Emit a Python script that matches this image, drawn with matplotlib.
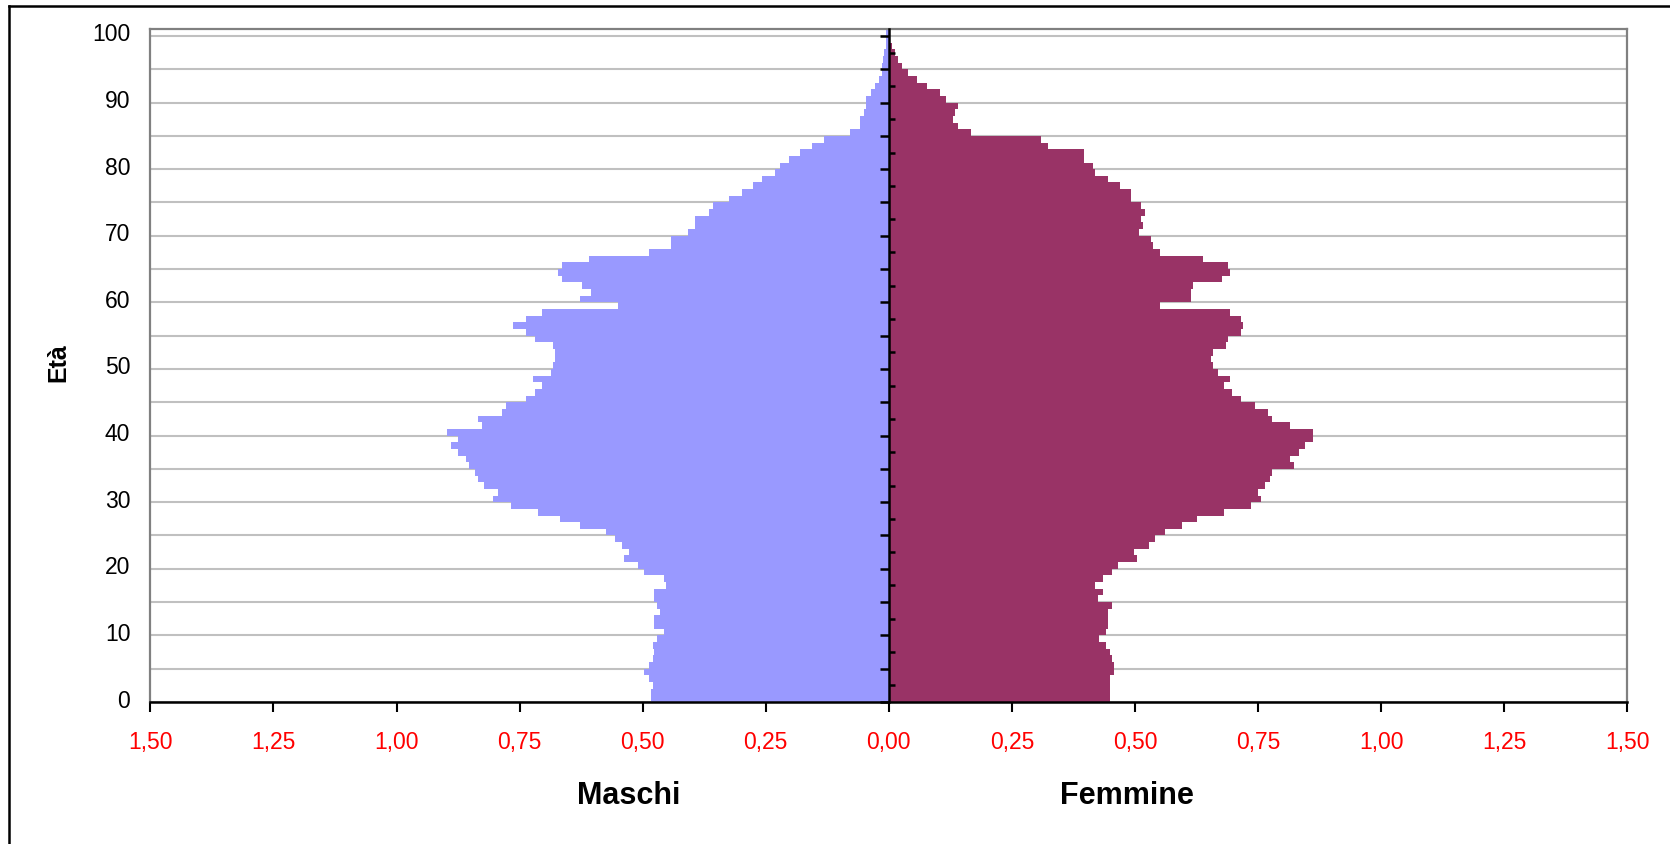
import matplotlib
matplotlib.use("Agg")
import matplotlib.pyplot as plt
from matplotlib.lines import Line2D
from matplotlib.transforms import ScaledTranslation
import numpy as np

# ---------------- data ----------------
ages = list(range(0, 101))

maschi = [0.484, 0.484, 0.480, 0.488, 0.498, 0.488, 0.480, 0.476, 0.480, 0.471,
          0.457, 0.476, 0.476, 0.465, 0.471, 0.476, 0.476, 0.453, 0.457, 0.498,
          0.510, 0.538, 0.528, 0.542, 0.557, 0.575, 0.628, 0.668, 0.713, 0.768,
          0.804, 0.794, 0.823, 0.835, 0.841, 0.853, 0.859, 0.875, 0.890, 0.875,
          0.898, 0.827, 0.835, 0.786, 0.778, 0.737, 0.719, 0.705, 0.723, 0.687,
          0.683, 0.679, 0.679, 0.683, 0.719, 0.737, 0.764, 0.737, 0.705, 0.551,
          0.628, 0.605, 0.624, 0.664, 0.672, 0.664, 0.609, 0.488, 0.443, 0.443,
          0.407, 0.394, 0.394, 0.366, 0.358, 0.325, 0.299, 0.276, 0.258, 0.232,
          0.222, 0.203, 0.181, 0.155, 0.132, 0.078, 0.059, 0.059, 0.051, 0.047,
          0.047, 0.037, 0.029, 0.019, 0.014, 0.014, 0.011, 0.009, 0.006, 0.006,
          0.005]

femmine = [0.450, 0.450, 0.450, 0.450, 0.458, 0.458, 0.454, 0.450, 0.442, 0.428,
           0.442, 0.446, 0.446, 0.446, 0.454, 0.424, 0.436, 0.418, 0.436, 0.454,
           0.465, 0.505, 0.499, 0.528, 0.540, 0.562, 0.595, 0.627, 0.680, 0.735,
           0.757, 0.749, 0.765, 0.775, 0.779, 0.824, 0.816, 0.834, 0.846, 0.861,
           0.861, 0.816, 0.779, 0.771, 0.743, 0.716, 0.698, 0.680, 0.694, 0.668,
           0.658, 0.654, 0.658, 0.684, 0.690, 0.716, 0.720, 0.716, 0.694, 0.550,
           0.613, 0.613, 0.617, 0.676, 0.694, 0.690, 0.639, 0.550, 0.536, 0.532,
           0.509, 0.517, 0.513, 0.521, 0.513, 0.491, 0.491, 0.469, 0.446, 0.418,
           0.414, 0.396, 0.396, 0.324, 0.310, 0.166, 0.140, 0.130, 0.134, 0.140,
           0.117, 0.103, 0.077, 0.058, 0.040, 0.026, 0.018, 0.012, 0.007, 0.003,
           0.001]

x_ticks = [-1.5, -1.25, -1.0, -0.75, -0.5, -0.25, 0.0, 0.25, 0.5, 0.75, 1.0, 1.25, 1.5]
x_ticklabels = ["1,50", "1,25", "1,00", "0,75", "0,50", "0,25", "0,00",
                "0,25", "0,50", "0,75", "1,00", "1,25", "1,50"]
y_grid = list(range(0, 101, 5))
y_labels = [str(v) if v % 10 == 0 else "" for v in y_grid]

label_m = "Maschi"
label_f = "Femmine"
label_y = "Età"

color_m = "#9999FF"
color_f = "#993366"

# ---------------- figure ----------------
plt.rcParams['font.family'] = ['Liberation Sans', 'DejaVu Sans']

W, H = 1670, 844
fig = plt.figure(figsize=(W / 100, H / 100), dpi=100)
fig.patch.set_facecolor("white")

ax_l, ax_r, ax_t, ax_b = 150.4, 1627.2, 29.3, 702.0
ax = fig.add_axes([ax_l / W, 1 - ax_b / H, (ax_r - ax_l) / W, (ax_b - ax_t) / H])

ax.barh(ages, [-v for v in maschi], height=1.0, align='edge', color=color_m,
        linewidth=0, zorder=2)
ax.barh(ages, femmine, height=1.0, align='edge', color=color_f,
        linewidth=0, zorder=2)

ax.set_xlim(-1.5, 1.5)
ax.set_ylim(0, 101)

# y axis: gridlines every 5, labels every 10
ax.set_yticks(y_grid)
ax.set_yticklabels(y_labels)
ax.yaxis.grid(True, color="#c0c0c0", linewidth=1.5)
ax.set_axisbelow(True)
ax.tick_params(axis='y', length=0, pad=14.5, labelsize=16.5, labelcolor='black')
off = ScaledTranslation(0, 3.5 / 100, fig.dpi_scale_trans)
for lab in ax.get_yticklabels():
    lab.set_transform(lab.get_transform() + off)

# x axis
ax.set_xticks(x_ticks)
ax.set_xticklabels(x_ticklabels)
ax.tick_params(axis='x', direction='out', length=7.5, width=1.5, color='black',
               pad=13.5, labelsize=15, labelcolor='#FF0000')
for lab in ax.get_xticklabels():
    lab.set_family(['Liberation Sans Narrow', 'Liberation Sans'])
    lab.set_fontsize(16.5)

for s in ['left', 'top', 'right']:
    ax.spines[s].set_color('#808080')
    ax.spines[s].set_linewidth(1.6)
ax.spines['bottom'].set_color('black')
ax.spines['bottom'].set_linewidth(1.8)
ax.spines['bottom'].set_zorder(5)

# central vertical axis with ticks
sec = ax.secondary_yaxis(0.5)
sec.set_zorder(6)
sec.spines['right'].set_color('black')
sec.spines['right'].set_linewidth(1.8)
sec.set_yticks(list(range(0, 101, 5)))
sec.set_yticks([2.5 + 5 * k for k in range(20)], minor=True)
sec.tick_params(axis='y', which='major', direction='in', length=6.5, width=1.8,
                color='black', labelright=False, labelleft=False)
sec.tick_params(axis='y', which='minor', direction='out', length=4, width=1.8,
                color='black', labelright=False, labelleft=False)

# axis titles
fig.text(628.6 / W, 1 - 803.5 / H, label_m, ha='center', va='baseline',
         fontsize=22, fontweight='bold')
fig.text(1127.0 / W, 1 - 803.5 / H, label_f, ha='center', va='baseline',
         fontsize=22, fontweight='bold')
fig.text(58 / W, 1 - 363 / H, label_y, ha='center', va='center', rotation=90,
         fontsize=18, fontweight='bold')

# outer chart frame (left and top edges visible)
fig.add_artist(Line2D([8.5 / W, 8.5 / W], [0, 1 - 6 / H], color='black',
                      linewidth=1.8, transform=fig.transFigure))
fig.add_artist(Line2D([8.5 / W, 1.0], [1 - 6 / H, 1 - 6 / H], color='black',
                      linewidth=1.8, transform=fig.transFigure))

fig.savefig("out.png", dpi=100, facecolor="white")
